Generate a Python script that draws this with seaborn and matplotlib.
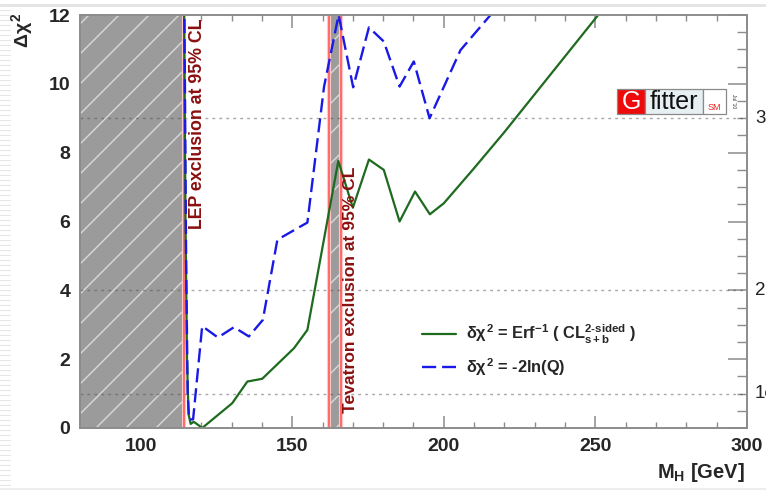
import numpy as np
import pandas as pd
import matplotlib
matplotlib.use("Agg")
import matplotlib.pyplot as plt
import matplotlib.transforms as mtransforms
from matplotlib.patches import Rectangle
from matplotlib.lines import Line2D
from matplotlib.ticker import MultipleLocator
import seaborn as sns

# Scan of the Higgs mass: delta chi^2 from the direct-search constraints
mh_erf = [114.3, 114.8, 115.3, 115.8, 116.5, 117.5, 118.5, 120.3, 130.2, 135.2,
          140.1, 150.6, 155.0, 165.2, 170.0, 175.3, 180.2, 185.4, 190.5, 195.4,
          200.0, 210.0, 220.0, 230.0, 240.0, 250.0, 260.0]
dchi2_erf = [12.5, 6.0, 2.0, 0.4, 0.12, 0.18, 0.12, 0.0, 0.72, 1.35,
             1.43, 2.32, 2.85, 7.76, 6.4, 7.8, 7.5, 6.0, 6.87, 6.21,
             6.53, 7.55, 8.6, 9.7, 10.8, 11.9, 13.0]

mh_q = [114.4, 115.0, 115.5, 116.0, 117.3, 120.3, 125.5, 130.8, 135.7, 140.3,
        145.1, 155.0, 160.5, 165.3, 170.1, 175.3, 180.2, 185.4, 190.1, 195.3,
        205.5, 215.4, 220.0]
dchi2_q = [12.5, 5.0, 1.0, 0.25, 0.25, 2.96, 2.63, 2.93, 2.66, 3.14,
           5.47, 5.97, 9.92, 12.0, 9.9, 11.64, 11.23, 9.92, 10.65, 9.0,
           10.98, 12.0, 12.5]

# Excluded mass ranges (GeV)
lep_limit = 114.4
tevatron_range = (162.0, 166.0)

# Reference levels in delta chi^2 and their sigma labels
sigma_levels = [1, 4, 9]
sigma_labels = ["1σ", "2σ", "3σ"]

x_ticks = [100, 150, 200, 250, 300]

sns.set_theme(style="ticks")
plt.rcParams["font.family"] = ["Liberation Sans", "DejaVu Sans"]
plt.rcParams["mathtext.fontset"] = "custom"
plt.rcParams["mathtext.rm"] = "Liberation Sans:bold"
plt.rcParams["mathtext.bf"] = "Liberation Sans:bold"
plt.rcParams["mathtext.it"] = "Liberation Sans:bold"

W, H = 766, 493
fig = plt.figure(figsize=(W / 100, H / 100), dpi=100)
ax = fig.add_axes([80 / W, 1 - 428 / H, (747 - 80) / W, (428 - 15) / H])

GREEN = "#1e6a1e"
BLUE = "#1a1ae6"
RED_EDGE = "#ff5a5a"
TEXT_RED = "#8b1010"
SPINE = "#8c8c8c"

ax.set_xlim(80, 300)
ax.set_ylim(0, 12)

# Excluded regions: grey fill with sparse light diagonal hatching
def excluded_band(x0, x1, edges):
    rect = Rectangle((x0, 0), x1 - x0, 12, facecolor="#9b9b9b",
                     edgecolor="none", zorder=1)
    ax.add_patch(rect)
    ratio = (747 - 80) / (428 - 15)
    step = 30 / (747 - 80)
    for c in np.arange(-2.0, 1.2, step):
        ln = Line2D([c, c + 1.0], [0, ratio], transform=ax.transAxes,
                    color="#d9d9d9", lw=1.0, zorder=1.5)
        ax.add_line(ln)
        ln.set_clip_path(rect)
    for xe in edges:
        ax.axvline(xe, color="#ffc8c8", lw=3.0, zorder=2)
        ax.axvline(xe, color=RED_EDGE, lw=1.2, zorder=2.1)

excluded_band(80, lep_limit, [lep_limit])
excluded_band(tevatron_range[0], tevatron_range[1], list(tevatron_range))

# Dotted reference lines at 1, 2 and 3 sigma
for lv in sigma_levels:
    ax.axhline(lv, color="#505050", alpha=0.5, lw=1.0, ls=(0, (2, 3)), zorder=2.5)

df_erf = pd.DataFrame({"mh": mh_erf, "dchi2": dchi2_erf})
df_q = pd.DataFrame({"mh": mh_q, "dchi2": dchi2_q})

sns.lineplot(data=df_erf, x="mh", y="dchi2", ax=ax, color=GREEN, lw=1.6,
             sort=False, estimator=None, zorder=4,
             label=r"$\delta\chi^{2}$ = Erf$^{-1}$ ( CL$^{2\text{-}sided}_{s+b}$ )")
sns.lineplot(data=df_q, x="mh", y="dchi2", ax=ax, color=BLUE, lw=1.7,
             sort=False, estimator=None, zorder=4, dashes=False,
             label=r"$\delta\chi^{2}$ = -2ln(Q)")
ax.lines[-1].set_dashes((6, 2.5))

leg = ax.legend(loc="upper left", bbox_to_anchor=((415 - 80) / 667, (428 - 316) / 413),
                frameon=False, fontsize=11.8, handlelength=2.1, handletextpad=0.6,
                labelspacing=0.65, borderaxespad=0)
for t in leg.get_texts():
    t.set_fontweight("bold")
leg.set_zorder(6)

# Exclusion labels
ax.text(116.0, 12 - 0.1, "LEP exclusion at 95% CL", rotation=90, ha="left",
        va="top", color=TEXT_RED, fontsize=12.8, fontweight="bold", zorder=5)
ax.text(166.9, 0.45, "Tevatron exclusion at 95% CL", rotation=90, ha="left",
        va="bottom", color=TEXT_RED, fontsize=12.6, fontweight="bold", zorder=5)

# Axes styling
ax.set_xlabel("")
ax.set_ylabel("")
for s in ax.spines.values():
    s.set_color(SPINE)
    s.set_linewidth(1.4)
    s.set_zorder(5)
ax.xaxis.set_major_locator(plt.FixedLocator(x_ticks))
ax.xaxis.set_minor_locator(MultipleLocator(10))
ax.yaxis.set_major_locator(MultipleLocator(2))
ax.yaxis.set_minor_locator(MultipleLocator(0.5))
ax.tick_params(axis="x", which="major", direction="in", length=9, width=1.1,
               color=SPINE, top=True, bottom=True, labelsize=14, pad=7)
ax.tick_params(axis="x", which="minor", direction="in", length=4.5, width=1.0,
               color=SPINE, top=True, bottom=True)
ax.tick_params(axis="y", which="major", direction="in", length=14, width=1.1,
               color=SPINE, left=True, right=True, labelsize=14, pad=7)
ax.tick_params(axis="y", which="minor", direction="in", length=7, width=1.0,
               color=SPINE, left=True, right=True)
for lab in ax.get_xticklabels() + ax.get_yticklabels():
    lab.set_fontweight("bold")

# Sigma labels on the right edge
trans = mtransforms.blended_transform_factory(ax.transAxes, ax.transData)
for lv, lab in zip(sigma_levels, sigma_labels):
    ax.text(1.012, lv, lab, transform=trans, ha="left", va="center",
            fontsize=13.5, color="#222222")

# Axis titles
fig.text(22 / W, 1 - 30 / H, r"$\Delta\chi^{2}$", rotation=90, ha="center",
         va="center", fontsize=14)
fig.text(745 / W, 1 - 472 / H, r"M$_{\mathrm{H}}$ [GeV]", ha="right", va="center",
         fontsize=14.5, fontweight="bold")

# Gfitter badge
def px_box(x0, y0, x1, y1, fc):
    fig.patches.append(Rectangle((x0 / W, 1 - y1 / H), (x1 - x0) / W, (y1 - y0) / H,
                                 transform=fig.transFigure, facecolor=fc,
                                 edgecolor="#8a8a8a", lw=0.9, zorder=10))

px_box(617, 89, 645, 114, "#ee0a0a")
px_box(645, 89, 703, 114, "#e6eff1")
px_box(703, 89, 726, 114, "#ffffff")
fig.text(631 / W, 1 - 102 / H, "G", color="white", fontsize=18, ha="center",
         va="center", zorder=11)
fig.text(674 / W, 1 - 102 / H, "fitter", color="#111111", fontsize=18,
         ha="center", va="center", zorder=11)
fig.text(714.5 / W, 1 - 107 / H, "SM", color="#ee2222", fontsize=6.5,
         ha="center", va="center", zorder=11)
fig.text(733 / W, 1 - 101 / H, "Jul '10", color="#333333", fontsize=3.5,
         rotation=-90, ha="center", va="center", zorder=11)

# Thin window frame lines
fig.add_artist(Line2D([0, 1], [1 - 5 / H, 1 - 5 / H], transform=fig.transFigure,
                      color="#e4e4e4", lw=2))
fig.add_artist(Line2D([0, 1], [1 - 489 / H, 1 - 489 / H], transform=fig.transFigure,
                      color="#eeeeee", lw=1.5))
for yy in np.arange(10, 490, 5):
    fig.add_artist(Line2D([0, 10 / W], [1 - yy / H, 1 - yy / H],
                          transform=fig.transFigure, color="#e6e6e6", lw=0.8))

fig.savefig("out.png", dpi=100)
